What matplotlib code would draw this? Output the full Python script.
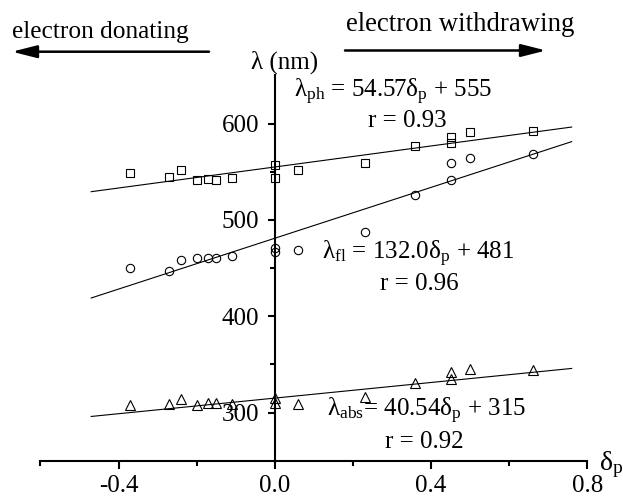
import numpy as np
import matplotlib
matplotlib.use("Agg")
import matplotlib.pyplot as plt
from matplotlib.ticker import FixedLocator, FormatStrFormatter

plt.rcParams["font.family"] = ["Liberation Serif", "DejaVu Serif"]
plt.rcParams["mathtext.fontset"] = "custom"
plt.rcParams["mathtext.rm"] = "Liberation Serif"
plt.rcParams["mathtext.it"] = "Liberation Serif:italic"

# --- data -------------------------------------------------------------------
sigma_p = [-0.37, -0.27, -0.24, -0.20, -0.17, -0.15, -0.11, 0.0, 0.0, 0.06,
           0.23, 0.36, 0.45, 0.45, 0.50, 0.66]
lam_ph = [549, 545, 552, 541.5, 542.5, 541.5, 544, 557, 544, 552,
          559.5, 577, 586.5, 580, 591, 592.5]
lam_fl = [450.5, 447.5, 458.5, 460.5, 461, 461, 463, 471, 466.5, 468.5,
          487.5, 526, 559.5, 541.5, 564, 569]
lam_abs = [308, 309, 314.5, 308, 309.5, 309.5, 309, 315, 309.5, 309,
           316, 330.5, 342, 335, 345.5, 344]

# fitted lines (slope, intercept) and the delta_p span they are drawn over
fit_ph = (54.57, 555)
fit_fl = (132.0, 481)
fit_abs = (40.54, 315)
fit_span = [-0.47, 0.76]

W, H = 623, 497


def fig_xy(px, py):
    """Pixel position in the 623x497 picture -> figure fraction."""
    return px / W, 1 - py / H


fig = plt.figure(figsize=(W / 100, H / 100), dpi=100)
ax = fig.add_axes([40.4 / W, (H - 460.7) / H, 546.9 / W, 385.2 / H])

xs = np.array(fit_span)
for (m, b) in (fit_ph, fit_fl, fit_abs):
    ax.plot(xs, m * xs + b, "k-", lw=0.8)

mk = dict(ls="none", mfc="none", mec="black", mew=0.8)
ax.plot(sigma_p, lam_ph, marker="s", ms=5.4, **mk)
ax.plot(sigma_p, lam_fl, marker="o", ms=6.0, **mk)
ax.plot(sigma_p, lam_abs, marker="^", ms=6.6, **mk)

ax.set_xlim(-0.6, 0.8)
ax.set_ylim(250, 650)

# axes drawn as a cross: y axis at delta_p = 0
for s in ("top", "right"):
    ax.spines[s].set_visible(False)
ax.spines["left"].set_position(("data", 0))
for s in ("left", "bottom"):
    ax.spines[s].set_linewidth(1.5)

ax.xaxis.set_major_locator(FixedLocator([-0.4, 0.0, 0.4, 0.8]))
ax.xaxis.set_minor_locator(FixedLocator([-0.6, -0.2, 0.2, 0.6]))
ax.yaxis.set_major_locator(FixedLocator([300, 400, 500, 600]))
ax.yaxis.set_minor_locator(FixedLocator([350, 450, 550]))
ax.xaxis.set_major_formatter(FormatStrFormatter("%.1f"))
ax.tick_params(which="major", length=5.4, width=1.5, labelsize=18, pad=5)
ax.tick_params(which="minor", length=3.6, width=1.5)
ax.tick_params(axis="y", which="major", pad=6)

# --- equations -----------------------------------------------------------------
fs = 18
fig.text(*fig_xy(294, 97.5), "λ$_{\\mathrm{ph}}$ = 54.57δ$_{\\mathrm{p}}$ + 555",
         fontsize=fs, ha="left", va="baseline")
fig.text(*fig_xy(407, 127.3), "r = 0.93", fontsize=fs, ha="center", va="baseline")
fig.text(*fig_xy(321.7, 259.3), "λ$_{\\mathrm{fl}}$ = 132.0δ$_{\\mathrm{p}}$ + 481",
         fontsize=fs, ha="left", va="baseline")
fig.text(*fig_xy(419.5, 290), "r = 0.96", fontsize=fs, ha="center", va="baseline")
fig.text(*fig_xy(326.7, 416.7), "λ$_{\\mathrm{abs}}$= 40.54δ$_{\\mathrm{p}}$ + 315",
         fontsize=fs, ha="left", va="baseline")
fig.text(*fig_xy(424, 448.3), "r = 0.92", fontsize=fs, ha="center", va="baseline")

# axis labels
fig.text(*fig_xy(284.5, 69), "λ (nm)", fontsize=fs, ha="center", va="baseline")
fig.text(*fig_xy(599, 470), "δ$_{\\mathrm{p}}$", fontsize=20, ha="left", va="baseline")

# --- direction arrows ------------------------------------------------------------
fig.text(*fig_xy(11.7, 38.3), "electron donating", fontsize=18.3,
         ha="left", va="baseline")
fig.text(*fig_xy(346, 30.7), "electron withdrawing", fontsize=19.3,
         ha="left", va="baseline")
arrow = dict(arrowstyle="-|>,head_length=1.5,head_width=0.38", lw=1.8,
             color="black", mutation_scale=10, shrinkA=0, shrinkB=0)
ax.annotate("", xy=fig_xy(12, 51.7), xytext=fig_xy(209, 51.7),
            xycoords="figure fraction", textcoords="figure fraction",
            arrowprops=arrow, annotation_clip=False)
ax.annotate("", xy=fig_xy(546, 50.5), xytext=fig_xy(345, 50.5),
            xycoords="figure fraction", textcoords="figure fraction",
            arrowprops=arrow, annotation_clip=False)

fig.savefig("out.png", dpi=100)
